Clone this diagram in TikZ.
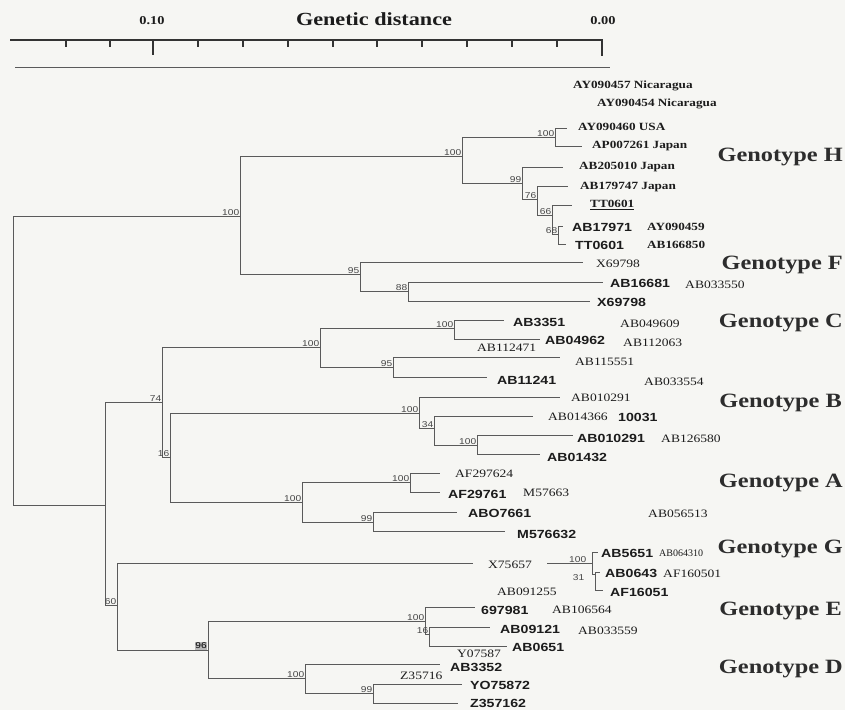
\documentclass[tikz,border=0pt]{standalone}
\usepackage{fontspec}
\setmainfont[FakeStretch=1.2]{Liberation Serif}
\newfontfamily\sansf[FakeStretch=1.2]{Liberation Sans}
\newfontfamily\sernarrow{Liberation Serif}
\definecolor{bgc}{RGB}{246,246,243}
\definecolor{linec}{RGB}{90,90,90}
\definecolor{txtc}{RGB}{28,28,28}
\definecolor{genc}{RGB}{45,45,45}
\definecolor{bsc}{RGB}{70,70,70}
\newcommand{\mkclade}[5]{%
  \coordinate (#1) at (#2,#3);
  \coordinate (#1-t) at (#2,#4);
  \coordinate (#1-b) at (#2,#5);
  \draw[br] (#1-t) -- (#1-b);}
\begin{document}
\begin{tikzpicture}[x=1pt,y=-1pt,
  br/.style={draw=linec, line width=0.75pt},
  ser/.style={font=\fontsize{11.3}{12}\selectfont, text=txtc, inner sep=0pt, anchor=west},
  serb/.style={font=\fontsize{11}{12}\selectfont\bfseries, text=txtc, inner sep=0pt, anchor=west},
  sb/.style={font=\sansf\bfseries\fontsize{11.8}{12}\selectfont, text=txtc, inner sep=0pt, anchor=west},
  geno/.style={font=\fontsize{20.3}{22}\selectfont\bfseries, text=genc, inner sep=0pt, anchor=east},
  bs/.style={font=\sansf\fontsize{8.5}{9}\selectfont, text=bsc, inner sep=0.6pt, anchor=south east},
  rul/.style={draw=txtc!90!white, line width=1.6pt},
  tk/.style={draw=txtc!90!white, line width=1.1pt}]
\fill[bgc] (0,0) rectangle (845,710);
\useasboundingbox (0,0) rectangle (845,710);
% ---------------- scale ruler
\coordinate (s0) at (10,40);
\coordinate (s1) at (602,40);
\coordinate (s1e) at (602,56);
\draw[rul] (s0) -- (s1) -- (s1e);
\foreach \xx in {66,110,198,243,288,333,377,422,467,512,557}
  \draw[tk] (\xx,40) -- (\xx,47);
\draw[rul] (153,40) -- (153,55);
\draw[draw=linec, line width=0.9pt] (15,67) -- (610,67);
\node[font=\fontsize{18.5}{20}\selectfont\bfseries, text=txtc] (gd) at (374,19) {Genetic distance};
\node[font=\fontsize{12}{14}\selectfont\bfseries, text=txtc] (s10) at (152,21) {0.10};
\node[font=\fontsize{12}{14}\selectfont\bfseries, text=txtc] (s00) at (603,21) {0.00};
% ---------------- internal nodes
\mkclade{R}{13}{360}{216}{505}
\mkclade{NHF}{240}{216}{156}{274}
\mkclade{NH}{462}{156}{137}{183}
\mkclade{NHa}{555}{137}{128}{146}
\mkclade{NHb}{522}{183}{167}{199}
\mkclade{NHc}{537}{199}{186}{215}
\mkclade{NHd}{552}{215}{205}{234}
\mkclade{NHe}{558}{234}{226}{244}
\mkclade{NF}{360}{274}{262}{291}
\mkclade{NFa}{408}{291}{282}{301}
\mkclade{NL}{105}{505}{402}{605}
\mkclade{NCBA}{162}{402}{347}{457}
\mkclade{NC}{320}{347}{328}{367}
\mkclade{NCa}{454}{328}{320}{339}
\mkclade{NCb}{393}{367}{357}{377}
\mkclade{NBA}{170}{457}{413}{502}
\mkclade{NB}{419}{413}{397}{428}
\mkclade{NBa}{434}{428}{416}{445}
\mkclade{NBb}{477}{445}{435}{454}
\mkclade{NA}{302}{502}{482}{522}
\mkclade{NAa}{410}{482}{473}{492}
\mkclade{NAb}{373}{522}{512}{531}
\mkclade{NGED}{117}{605}{563}{650}
\mkclade{NG}{592}{563}{552}{574}
\mkclade{NGa}{595}{574}{572}{590}
\mkclade{NED}{208}{650}{621}{678}
\mkclade{NE}{425}{621}{607}{634}
\mkclade{NEa}{429}{634}{627}{646}
\mkclade{ND}{305}{678}{664}{693}
\mkclade{NDa}{373}{693}{684}{703}
% ---------------- internal edges
\draw[br] (R-t) -- (NHF);
\draw[br] (R-b) -- (NL);
\draw[br] (NHF-t) -- (NH);
\draw[br] (NHF-b) -- (NF);
\draw[br] (NH-t) -- (NHa);
\draw[br] (NH-b) -- (NHb);
\draw[br] (NHb-b) -- (NHc);
\draw[br] (NHc-b) -- (NHd);
\draw[br] (NHd-b) -- (NHe);
\draw[br] (NF-b) -- (NFa);
\draw[br] (NL-t) -- (NCBA);
\draw[br] (NL-b) -- (NGED);
\draw[br] (NCBA-t) -- (NC);
\draw[br] (NCBA-b) -- (NBA);
\draw[br] (NC-t) -- (NCa);
\draw[br] (NC-b) -- (NCb);
\draw[br] (NBA-t) -- (NB);
\draw[br] (NBA-b) -- (NA);
\draw[br] (NB-b) -- (NBa);
\draw[br] (NBa-b) -- (NBb);
\draw[br] (NA-t) -- (NAa);
\draw[br] (NA-b) -- (NAb);
\draw[br] (NGED-t) -- (NG);
\draw[br] (NGED-b) -- (NED);
\draw[br] (NG-b) -- (NGa);
\draw[br] (NED-t) -- (NE);
\draw[br] (NED-b) -- (ND);
\draw[br] (NE-b) -- (NEa);
\draw[br] (ND-b) -- (NDa);
% ---------------- leaf ends
\coordinate (lH1) at (567,128);
\coordinate (lH2) at (582,146);
\coordinate (lH3) at (563,167);
\coordinate (lH4) at (568,186);
\coordinate (lH5) at (572,205);
\coordinate (lH6) at (563,226);
\coordinate (lH7) at (566,244);
\coordinate (lF1) at (583,262);
\coordinate (lF2) at (603,282);
\coordinate (lF3) at (590,301);
\coordinate (lC1) at (504,320);
\coordinate (lC2) at (540,339);
\coordinate (lC3) at (560,357);
\coordinate (lC4) at (487,377);
\coordinate (lB1) at (560,397);
\coordinate (lB2) at (533,416);
\coordinate (lB3) at (573,435);
\coordinate (lB4) at (540,454);
\coordinate (lA1) at (440,473);
\coordinate (lA2) at (440,492);
\coordinate (lA3) at (457,512);
\coordinate (lA4) at (505,531);
\coordinate (lG1) at (598,552);
\coordinate (lG2) at (600,572);
\coordinate (lG3) at (603,590);
\coordinate (lE1) at (475,607);
\coordinate (lE2) at (490,627);
\coordinate (lE3) at (507,646);
\coordinate (lD1) at (440,664);
\coordinate (lD2) at (462,684);
\coordinate (lD3) at (458,703);
\draw[br] (NHa-t) -- (lH1);
\draw[br] (NHa-b) -- (lH2);
\draw[br] (NHb-t) -- (lH3);
\draw[br] (NHc-t) -- (lH4);
\draw[br] (NHd-t) -- (lH5);
\draw[br] (NHe-t) -- (lH6);
\draw[br] (NHe-b) -- (lH7);
\draw[br] (NF-t) -- (lF1);
\draw[br] (NFa-t) -- (lF2);
\draw[br] (NFa-b) -- (lF3);
\draw[br] (NCa-t) -- (lC1);
\draw[br] (NCa-b) -- (lC2);
\draw[br] (NCb-t) -- (lC3);
\draw[br] (NCb-b) -- (lC4);
\draw[br] (NB-t) -- (lB1);
\draw[br] (NBa-t) -- (lB2);
\draw[br] (NBb-t) -- (lB3);
\draw[br] (NBb-b) -- (lB4);
\draw[br] (NAa-t) -- (lA1);
\draw[br] (NAa-b) -- (lA2);
\draw[br] (NAb-t) -- (lA3);
\draw[br] (NAb-b) -- (lA4);
\draw[br] (NG-t) -- (lG1);
\draw[br] (NGa-t) -- (lG2);
\draw[br] (NGa-b) -- (lG3);
\draw[br] (NE-t) -- (lE1);
\draw[br] (NEa-t) -- (lE2);
\draw[br] (NEa-b) -- (lE3);
\draw[br] (ND-t) -- (lD1);
\draw[br] (NDa-t) -- (lD2);
\draw[br] (NDa-b) -- (lD3);
% ---------------- bootstrap values
\node[bs] (bNHF) at (NHF) {100};
\node[bs] (bNH) at (NH) {100};
\node[bs] (bNHa) at (NHa) {100};
\node[bs] (bNHb) at (NHb) {99};
\node[bs] (bNHc) at (NHc) {76};
\node[bs] (bNHd) at (NHd) {66};
\node[bs] (bNHe) at (NHe) {68};
\node[bs] (bNF) at (NF) {95};
\node[bs] (bNFa) at (NFa) {88};
\node[bs] (bNCBA) at (NCBA) {74};
\node[bs] (bNC) at (NC) {100};
\node[bs] (bNCa) at (NCa) {100};
\node[bs] (bNCb) at (NCb) {95};
\node[bs] (bNBA) at (NBA) {16};
\node[bs] (bNB) at (NB) {100};
\node[bs] (bNBa) at (NBa) {34};
\node[bs] (bNBb) at (NBb) {100};
\node[bs] (bNA) at (NA) {100};
\node[bs] (bNAa) at (NAa) {100};
\node[bs] (bNAb) at (NAb) {99};
\node[bs] (bNGED) at (NGED) {60};
\node[bs] (bNG) at (587,563) {100};
\node[bs, anchor=east] (bNGa) at (585,578) {31};
\node[bs, anchor=east, fill=gray!55, text=black] (bNED) at (207.5,646) {96};
\node[bs] (bNE) at (NE) {100};
\node[bs] (bNEa) at (NEa) {16};
\node[bs] (bND) at (ND) {100};
\node[bs] (bNDa) at (NDa) {99};
% ---------------- leaf labels: Genotype H
\node[serb] (tH0) at (573,86) {AY090457 Nicaragua};
\node[serb] (tH00) at (597,104) {AY090454 Nicaragua};
\node[serb] (tH1) at (578,127) {AY090460 USA};
\node[serb] (tH2) at (592,146) {AP007261 Japan};
\node[serb] (tH3) at (579,167) {AB205010 Japan};
\node[serb] (tH4) at (580,187) {AB179747 Japan};
\node[serb] (tH5) at (590,205) {\underline{TT0601}};
\node[sb] (tH6) at (572,227) {AB17971};
\node[serb] (tH6b) at (647,227) {AY090459};
\node[sb] (tH7) at (575,245) {TT0601};
\node[serb] (tH7b) at (647,245) {AB166850};
\node[geno] (gH) at (843,157) {Genotype H};
% Genotype F
\node[ser] (tF1) at (596,264) {X69798};
\node[sb] (tF2) at (610,283) {AB16681};
\node[ser] (tF2b) at (685,285) {AB033550};
\node[sb] (tF3) at (597,302) {X69798};
\node[geno] (gF) at (843,265) {Genotype F};
% Genotype C
\node[sb] (tC1) at (513,322) {AB3351};
\node[ser] (tC1b) at (620,324) {AB049609};
\node[sb] (tC2) at (545,340) {AB04962};
\node[ser] (tC2b) at (623,343) {AB112063};
\node[ser] (tC2c) at (477,348) {AB112471};
\node[ser] (tC3) at (575,362) {AB115551};
\node[sb] (tC4) at (497,380) {AB11241};
\node[ser] (tC4b) at (644,382) {AB033554};
\node[geno] (gC) at (843,323) {Genotype C};
% Genotype B
\node[ser] (tB1) at (571,398) {AB010291};
\node[ser] (tB2) at (548,417) {AB014366};
\node[sb] (tB2b) at (618,417) {10031};
\node[sb] (tB3) at (577,438) {AB010291};
\node[ser] (tB3b) at (661,439) {AB126580};
\node[sb] (tB4) at (547,457) {AB01432};
\node[geno] (gB) at (842,403) {Genotype B};
% Genotype A
\node[ser] (tA1) at (455,474) {AF297624};
\node[sb] (tA2) at (448,494) {AF29761};
\node[ser] (tA2b) at (523,493) {M57663};
\node[sb] (tA3) at (468,513) {ABO7661};
\node[ser] (tA3b) at (648,514) {AB056513};
\node[sb] (tA4) at (517,534) {M576632};
\node[geno] (gA) at (843,483) {Genotype A};
% Genotype G
\node[ser, anchor=center, fill=bgc, inner xsep=15pt, inner ysep=1.5pt] (tX) at (510,565) {X75657};
\node[sb] (tG1) at (601,553) {AB5651};
\node[ser, font=\sernarrow\fontsize{10}{11}\selectfont] (tG1b) at (659,553) {AB064310};
\node[sb] (tG2) at (605,573) {AB0643};
\node[ser] (tG2b) at (663,574) {AF160501};
\node[sb] (tG3) at (610,592) {AF16051};
\node[ser] (tG3b) at (497,592) {AB091255};
\node[geno] (gG) at (843,549) {Genotype G};
% Genotype E
\node[sb] (tE1) at (481,610) {697981};
\node[ser] (tE1b) at (552,610) {AB106564};
\node[sb] (tE2) at (500,629) {AB09121};
\node[ser] (tE2b) at (578,631) {AB033559};
\node[sb] (tE3) at (512,647) {AB0651};
\node[ser] (tE3b) at (457,654) {Y07587};
\node[geno] (gE) at (842,611) {Genotype E};
% Genotype D
\node[sb] (tD1) at (450,667) {AB3352};
\node[ser] (tD1b) at (400,676) {Z35716};
\node[sb] (tD2) at (470,685) {YO75872};
\node[sb] (tD3) at (470,703) {Z357162};
\node[geno] (gD) at (843,669) {Genotype D};
\end{tikzpicture}
\end{document}
